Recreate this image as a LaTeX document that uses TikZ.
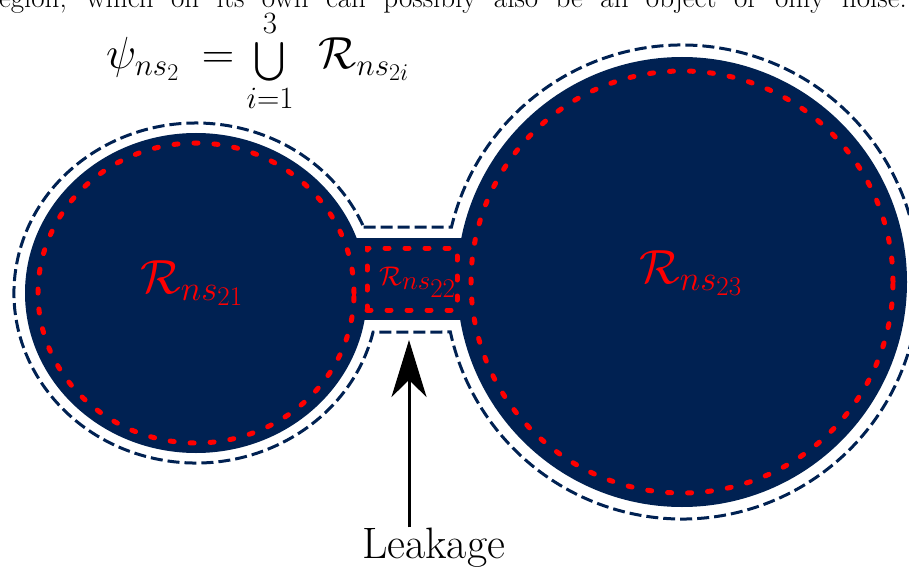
\RequirePackage{fix-cm}
\documentclass[tikz,border=0pt]{standalone}
\usepackage{graphicx}
\usetikzlibrary{arrows.meta}
\DeclareFontShape{OMX}{cmex}{m}{n}{<->cmex10}{}
\definecolor{navyfill}{RGB}{0,33,82}
\DeclareMathSizes{45}{45}{31}{24}
\DeclareMathSizes{48}{48}{35}{27}
\DeclareMathSizes{27}{27}{27}{27}
\newcommand{\smallcup}{\mathop{\raisebox{-4pt}{$\vcenter{\hbox{\scalebox{0.86}{$\bigcup$}}}$}}}
\tikzset{
  regionfill/.style={fill=navyfill},
  outerdash/.style={draw=navyfill, line width=3pt, dash pattern=on 12pt off 5pt},
  innerdash/.style={draw=red, line width=5pt, line cap=round, dash pattern=on 4pt off 16pt},
  biglabel/.style={text=red, inner sep=0pt, font=\fontsize{48}{56}\selectfont},
  smalllabel/.style={text=red, inner sep=0pt, font=\fontsize{27}{32}\selectfont},
  plaintext/.style={inner sep=0pt},
  leakarrow/.style={line width=3pt, -{Stealth[length=57pt,width=35pt,inset=17pt]}},
}
\begin{document}
\begin{tikzpicture}[x=1pt,y=1pt]
\path[use as bounding box] (0,0) rectangle (909,566);
% filled regions
\fill[regionfill] (196,273) ellipse [x radius=171, y radius=160];
\fill[regionfill] (682,284) circle [radius=225];
\fill[regionfill] (340,246) rectangle (470,328);
% outer dashed outline of the union
\draw[outerdash] (363.7,339) -- (451.5,339)
  arc[start angle=166.58, end angle=-167.82, radius=237]
  -- (373.1,234)
  arc[start angle=-13.26, end angle=-337.16, x radius=182, y radius=170]
  -- cycle;
% inner red dashed outlines
\draw[innerdash] (196,273) ellipse [x radius=158, y radius=150];
\draw[innerdash] (682,284) circle [radius=211];
\draw[innerdash] (367,256) rectangle (457,318);
% labels
\node[biglabel, anchor=base west] (r21) at (140,273) {$\mathcal{R}_{ns_{21}}$};
\node[smalllabel, anchor=base west] (r22) at (379,281) {$\mathcal{R}_{ns_{22}}$};
\node[biglabel, anchor=base west] (r23) at (639,283) {$\mathcal{R}_{ns_{23}}$};
\node[plaintext, anchor=base west, font=\fontsize{45}{54}\selectfont] (psi) at (106,497)
  {$\psi_{ns_2}\mkern4mu = \smallcup\limits_{i=1}^{3}\mkern7mu\mathcal{R}_{ns_{2i}}$};
\node[plaintext, anchor=base west, font=\fontsize{44}{52}\selectfont] (leak) at (362,8) {Leakage};
\coordinate (tip) at (409,226);
\draw[leakarrow] (leak.north -| tip) -- (tip);
\node[plaintext, anchor=base west, font=\fontsize{29}{35}\selectfont] (prev) at (-11.4,558.5)
  {\makebox[918pt][s]{region, which on its own can possibly also be an object or only noise.}};
\end{tikzpicture}
\end{document}
